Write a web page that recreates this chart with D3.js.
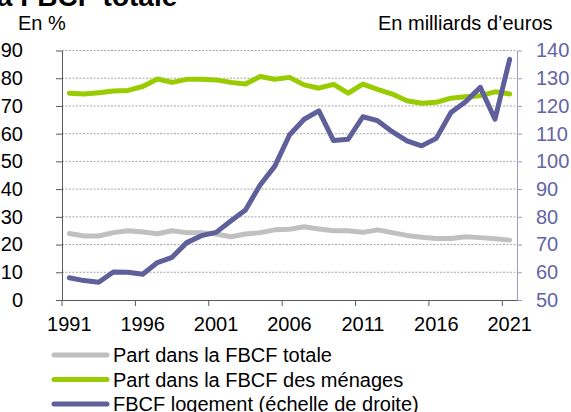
<!DOCTYPE html>
<html>
<head>
<meta charset="utf-8">
<script src="https://cdn.jsdelivr.net/npm/d3@7"></script>
<style>
  body { margin: 0; background: #fff; }
  svg { display: block; font-family: Arial, "Liberation Sans", sans-serif; }
</style>
</head>
<body>
<script>
/**
 * data
 */
let years = d3.range(1991, 2022);
let partTotale = [24.0, 23.1, 23.1, 24.3, 25.0, 24.5, 23.9, 25.0, 24.3, 24.3, 23.8, 22.8, 23.8, 24.3, 25.3, 25.5, 26.4,
    25.6, 25.0, 25.0, 24.4, 25.3, 24.3, 23.3, 22.6, 22.2, 22.2, 22.8, 22.5, 22.1, 21.6];
let partMenages = [74.6, 74.3, 74.8, 75.4, 75.6, 77.0, 79.7, 78.5, 79.6, 79.6, 79.4, 78.5, 77.9, 80.6, 79.6, 80.3, 77.6,
    76.4, 77.8, 74.6, 77.9, 76.0, 74.3, 71.9, 71.0, 71.3, 72.8, 73.3, 73.7, 75.1, 74.3];
let fbcfLogement = [58.0, 57.0, 56.4, 60.1, 60.0, 59.3, 63.5, 65.4, 70.7, 73.2, 74.4, 78.5, 82.5, 91.5, 98.3, 109.5, 115.2,
    118.2, 107.5, 108.0, 116.1, 114.7, 110.7, 107.4, 105.6, 108.3, 117.6, 121.5, 126.7, 115.2, 136.8];
let leftTicks = d3.range(0, 100, 10);
let rightTicks = d3.range(50, 150, 10);
let legendLabels = ["Part dans la FBCF totale", "Part dans la FBCF des ménages", "FBCF logement (échelle de droite)"];

/**
 * sizes and colours
 */
let width = 571, height = 412;
let plot = { left: 62, right: 517, top: 50.5, bottom: 300 };
let colGrey = "#c0c0c0", colGreen = "#99cc00", colPurple = "#5f5f9b";
let font = 20;

let svg = d3.select("body").append("svg")
    .attr("width", width)
    .attr("height", height);

let x = d3.scaleBand().domain(years).range([plot.left, plot.right]).padding(0),
    y = d3.scaleLinear().domain([0, 90]).range([plot.bottom, plot.top]),
    y2 = d3.scaleLinear().domain([50, 140]).range([plot.bottom, plot.top]);

// title (cut off at the top in the original) and unit labels
svg.append("text")
    .attr("x", -11).attr("y", 6)
    .style("font-size", "28px").style("font-weight", "bold")
    .text("la FBCF totale");
svg.append("text").attr("x", 18).attr("y", 30).style("font-size", font + "px").text("En %");
svg.append("text").attr("x", 378).attr("y", 30).style("font-size", font + "px").text("En milliards d’euros");

// dotted grid
svg.append("g").selectAll("line")
    .data(leftTicks.filter(d => d > 0))
    .join("line")
    .attr("x1", plot.left).attr("x2", plot.right)
    .attr("y1", d => y(d)).attr("y2", d => y(d))
    .attr("stroke", "#a6a6a6")
    .attr("stroke-dasharray", "2,1.5");

// left axis
let leftAxis = svg.append("g")
    .attr("transform", "translate(" + plot.left + ",0)")
    .call(d3.axisLeft(y).tickValues(leftTicks).tickSize(6).tickPadding(33).tickSizeOuter(0));
leftAxis.selectAll("path, line").attr("stroke", "#595959");
leftAxis.selectAll("text").style("font-size", font + "px").attr("fill", "#000");

// right axis
let rightAxis = svg.append("g")
    .attr("transform", "translate(" + plot.right + ",0)")
    .call(d3.axisRight(y2).tickValues(rightTicks).tickSize(5).tickPadding(14).tickSizeOuter(0));
rightAxis.selectAll("path, line").attr("stroke", "#9a9ac8");
rightAxis.selectAll("text").style("font-size", font + "px").attr("fill", "#6464a6");

// bottom axis: labels at the centre of the year, ticks on the year boundaries
let bottomAxis = svg.append("g")
    .attr("transform", "translate(0," + plot.bottom + ")")
    .call(d3.axisBottom(x).tickValues(years.filter((d, i) => i % 5 === 0)).tickSize(0).tickPadding(17).tickSizeOuter(0));
bottomAxis.select("path").attr("stroke", "#595959");
bottomAxis.selectAll("text").style("font-size", font + "px").attr("fill", "#000");
bottomAxis.selectAll(".edge")
    .data(years.filter((d, i) => i % 5 === 0))
    .join("line")
    .attr("class", "edge")
    .attr("x1", d => x(d)).attr("x2", d => x(d))
    .attr("y1", 0).attr("y2", 6)
    .attr("stroke", "#595959");

/**
 * series lines
 */
let cx = d => x(d) + x.bandwidth() / 2;
let series = [
    { values: partTotale, scale: y, color: colGrey },
    { values: partMenages, scale: y, color: colGreen },
    { values: fbcfLogement, scale: y2, color: colPurple }
];
series.forEach(function (s) {
    let line = d3.line()
        .x((d, i) => cx(years[i]))
        .y(d => s.scale(d));
    svg.append("path")
        .datum(s.values)
        .attr("d", line)
        .attr("fill", "none")
        .attr("stroke", s.color)
        .attr("stroke-width", 5)
        .attr("stroke-linejoin", "round")
        .attr("stroke-linecap", "round");
});

// legend
let legend = svg.append("g").selectAll("g")
    .data(series)
    .join("g")
    .attr("transform", (d, i) => "translate(0," + (355 + i * 24.5) + ")");
legend.append("line")
    .attr("x1", 54).attr("x2", 107)
    .attr("stroke", d => d.color)
    .attr("stroke-width", 5)
    .attr("stroke-linecap", "round");
legend.append("text")
    .attr("x", 113).attr("dy", "0.35em")
    .style("font-size", font + "px")
    .text((d, i) => legendLabels[i]);
</script>
</body>
</html>
